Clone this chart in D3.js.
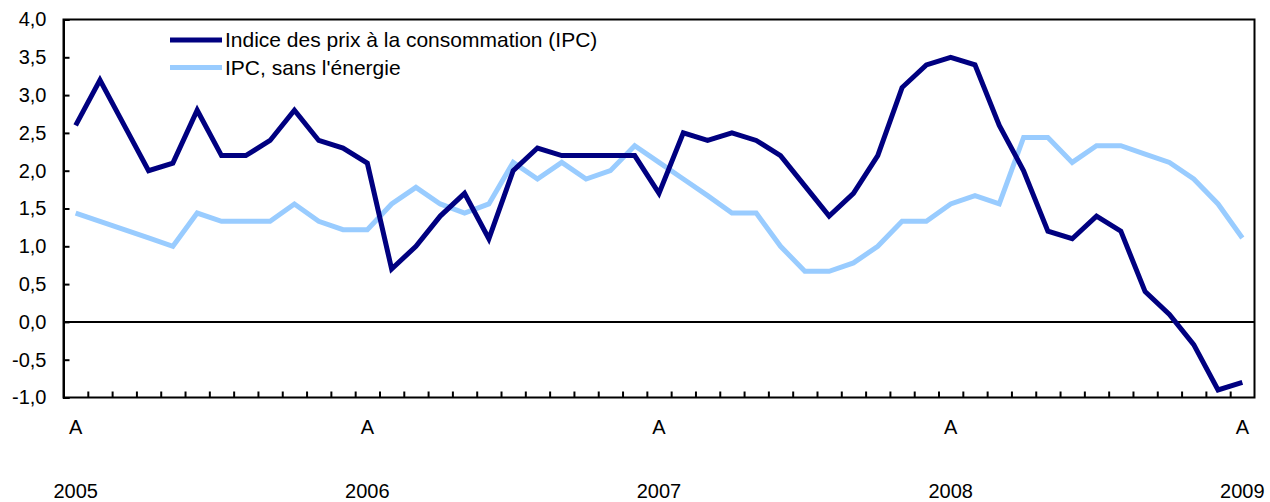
<!DOCTYPE html>
<html>
<head>
<meta charset="utf-8">
<script src="https://cdn.jsdelivr.net/npm/d3@7"></script>
<style>
  body { margin: 0; background: #fff; }
  svg { display: block; font-family: "Liberation Sans", Arial, Helvetica, sans-serif; }
</style>
</head>
<body>
<div id="chart"></div>
<script>
// monthly points, first one is the "A" of 2005, last one the "A" of 2009
const ipc = [2.6, 3.2, 2.6, 2.0, 2.1, 2.8, 2.2, 2.2, 2.4, 2.8, 2.4, 2.3,
             2.1, 0.7, 1.0, 1.4, 1.7, 1.1, 2.0, 2.3, 2.2, 2.2, 2.2, 2.2,
             1.7, 2.5, 2.4, 2.5, 2.4, 2.2, 1.8, 1.4, 1.7, 2.2, 3.1, 3.4,
             3.5, 3.4, 2.6, 2.0, 1.2, 1.1, 1.4, 1.2, 0.4, 0.1, -0.3, -0.9,
             -0.8];
const ipcSansEnergie = [1.44, 1.33, 1.22, 1.11, 1.0, 1.44, 1.33, 1.33, 1.33, 1.56, 1.33, 1.22,
                        1.22, 1.56, 1.78, 1.56, 1.44, 1.56, 2.11, 1.89, 2.11, 1.89, 2.0, 2.33,
                        2.11, 1.89, 1.67, 1.44, 1.44, 1.0, 0.67, 0.67, 0.78, 1.0, 1.33, 1.33,
                        1.56, 1.67, 1.56, 2.44, 2.44, 2.11, 2.33, 2.33, 2.22, 2.11, 1.89, 1.56,
                        1.11];
const labelIndex = [0, 12, 24, 36, 48];
const monthLabels = ["A", "A", "A", "A", "A"];
const yearLabels = ["2005", "2006", "2007", "2008", "2009"];
const yTicks = [-1.0, -0.5, 0.0, 0.5, 1.0, 1.5, 2.0, 2.5, 3.0, 3.5, 4.0];
const seriesNames = ["Indice des prix à la consommation (IPC)", "IPC, sans l'énergie"];

let w = 1270;
let h = 502;
let plotLeft = 63.5, plotRight = 1254.5, plotTop = 19.5, plotBottom = 397.5;

let svg = d3.select("#chart").append("svg")
    .attr("width", w)
    .attr("height", h);

let xBand = d3.scaleBand()
    .domain(d3.range(ipc.length))
    .range([plotLeft, plotRight]);

let xLin = d3.scaleLinear()
    .domain([0, ipc.length])
    .range([plotLeft, plotRight]);

let y = d3.scaleLinear()
    .domain([-1, 4])
    .range([plotBottom, plotTop]);

let cx = (i) => xBand(i) + xBand.bandwidth() / 2;

// frame
svg.append("rect")
    .attr("x", plotLeft)
    .attr("y", plotTop)
    .attr("width", plotRight - plotLeft)
    .attr("height", plotBottom - plotTop)
    .attr("fill", "none")
    .attr("stroke", "#000")
    .attr("stroke-width", 2);

// zero line
svg.append("line")
    .attr("x1", plotLeft)
    .attr("x2", plotRight)
    .attr("y1", y(0))
    .attr("y2", y(0))
    .attr("stroke", "#000")
    .attr("stroke-width", 2);

// y axis
let yAxis = svg.append("g")
    .attr("transform", "translate(" + plotLeft + ",0)")
    .call(d3.axisLeft(y)
        .tickValues(yTicks)
        .tickSize(-6)
        .tickPadding(17)
        .tickFormat((d) => d.toFixed(1).replace(".", ",")));
yAxis.select(".domain").attr("stroke-width", 2);
yAxis.selectAll(".tick line").attr("stroke-width", 2);
yAxis.selectAll("text")
    .attr("font-size", 20)
    .attr("fill", "#000")
    .attr("font-family", "Liberation Sans, Arial, sans-serif");

// month tick marks at band edges
let xTicks = svg.append("g")
    .attr("transform", "translate(0," + plotBottom + ")")
    .call(d3.axisBottom(xLin)
        .tickValues(d3.range(1, ipc.length))
        .tickSize(-6)
        .tickFormat(""));
xTicks.select(".domain").remove();
xTicks.selectAll(".tick line").attr("stroke-width", 2);

// month and year labels
let xAxis = svg.append("g")
    .attr("transform", "translate(0," + plotBottom + ")")
    .call(d3.axisBottom(xBand)
        .tickValues(labelIndex)
        .tickSize(0)
        .tickPadding(22)
        .tickFormat((d) => monthLabels[labelIndex.indexOf(d)]));
xAxis.select(".domain").remove();
xAxis.selectAll("text")
    .attr("font-size", 20)
    .attr("fill", "#000")
    .attr("font-family", "Liberation Sans, Arial, sans-serif");

svg.selectAll(".year")
    .data(labelIndex)
    .enter()
    .append("text")
    .attr("class", "year")
    .attr("x", (d) => cx(d))
    .attr("y", 498)
    .attr("text-anchor", "middle")
    .attr("font-size", 20)
    .text((d, i) => yearLabels[i]);

// lines
let line = d3.line()
    .x((d, i) => cx(i))
    .y((d) => y(d));

svg.append("path")
    .datum(ipcSansEnergie)
    .attr("d", line)
    .attr("fill", "none")
    .attr("stroke", "#99ccff")
    .attr("stroke-width", 5);

svg.append("path")
    .datum(ipc)
    .attr("d", line)
    .attr("fill", "none")
    .attr("stroke", "#000080")
    .attr("stroke-width", 5);

// legend
let colors = ["#000080", "#99ccff"];
let legend = svg.selectAll(".legend")
    .data(seriesNames)
    .enter()
    .append("g")
    .attr("class", "legend")
    .attr("transform", (d, i) => "translate(170," + (40 + i * 27.5) + ")");

legend.append("line")
    .attr("x1", 0)
    .attr("x2", 52)
    .attr("stroke", (d, i) => colors[i])
    .attr("stroke-width", 5);

legend.append("text")
    .attr("x", 55)
    .attr("y", 7)
    .attr("font-size", 21)
    .text((d) => d);
</script>
</body>
</html>
